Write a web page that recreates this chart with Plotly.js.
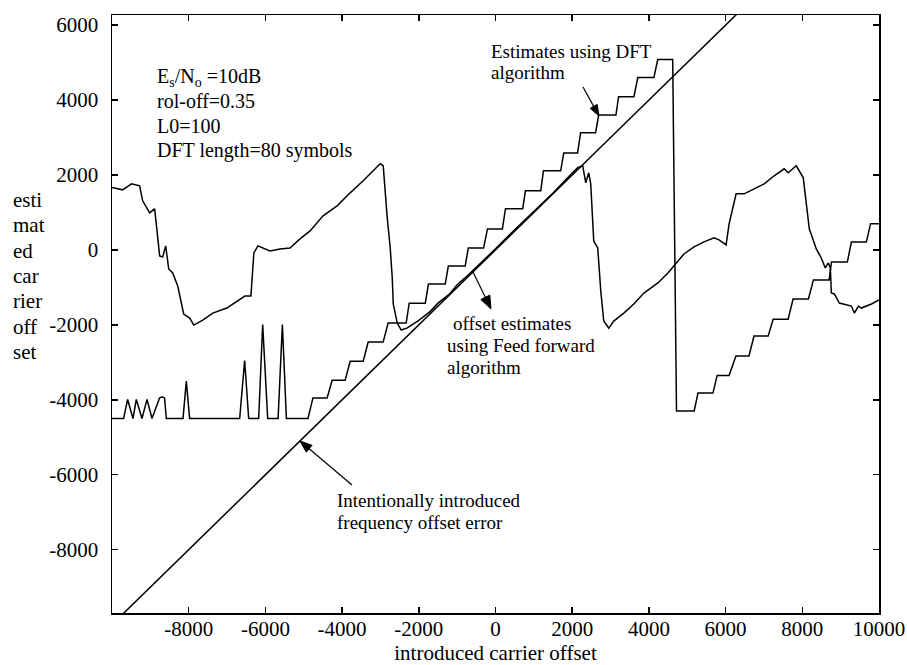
<!DOCTYPE html>
<html>
<head>
<meta charset="utf-8">
<script src="https://cdn.plot.ly/plotly-3.0.1.min.js"></script>
<style>html,body{margin:0;padding:0;background:#fff;}</style>
</head>
<body>
<div id="chart" style="width:907px;height:665px;"></div>
<script>
// ---- Data ----
// Intentionally introduced frequency offset (reference line)
const refX = [-10000, -5000, 0, 5000, 10000];
const refY = [-10000, -5000, 0, 5000, 10000];

// DFT algorithm estimates (staircase with spikes)
const dftX = [-10000, -9698, -9593, -9453, -9366, -9218, -9087, -8957, -8760, -8696, -8630, -8583,
  -8148, -8062, -7976, -6671, -6541, -6436, -6175, -6071, -5940, -5669, -5557, -5453,
  -4890, -4760, -4390, -4260, -3920, -3790, -3450, -3320, -2930, -2800, -2330, -2250, -1830,
  -1750, -1310, -1230, -790, -710, -310, -210, 180, 260, 710, 780, 1180, 1250, 1700,
  1780, 2140, 2220, 2610, 2690, 3140, 3210, 3610, 3710, 4130, 4230, 4620,
  4720, 5180, 5280, 5670, 5780, 6090, 6270, 6610, 6740, 7110, 7240, 7630, 7760, 8160,
  8290, 8700, 8760, 9175, 9280, 9670, 9780, 10000];
const dftY = [-4500, -4500, -3990, -4500, -3990, -4500, -3990, -4500, -3950, -3920, -3950, -4500,
  -4500, -3500, -4500, -4500, -2950, -4500, -4500, -1990, -4500, -4500, -1990, -4500,
  -4500, -3950, -3950, -3480, -3480, -2970, -2970, -2460, -2460, -1950, -1950, -1420, -1420,
  -910, -910, -430, -430, 50, 50, 560, 560, 1100, 1100, 1580, 1580, 2110, 2110,
  2590, 2590, 3130, 3130, 3600, 3600, 4090, 4090, 4600, 4600, 5080, 5080,
  -4300, -4300, -3820, -3820, -3350, -3350, -2830, -2830, -2300, -2300, -1850, -1850, -1310, -1310,
  -800, -800, -320, -320, 210, 210, 700, 700];

// Feed forward algorithm estimates
const ffX = [-10000, -9724, -9489, -9280, -9200, -9018, -8888, -8757, -8678, -8600, -8521, -8417,
  -8286, -8130, -7973, -7868, -7633, -7372, -7006, -6744, -6535, -6378, -6300, -6195,
  -5881, -5620, -5359, -5097, -4836, -4496, -4130, -3790, -3450, -3006, -2928, -2823,
  -2745, -2692, -2666, -2562, -2457, -2300, -2000, -1700, -1500, -1200, -1000, -700,
  -500, -200, 0, 500, 1000, 1500, 2000, 2143, 2274, 2353, 2431, 2483, 2562, 2666,
  2745, 2823, 2954, 3084, 3346, 3607, 3869, 4235, 4496, 4705, 4914, 5176, 5437, 5699,
  5830, 6013, 6091, 6274, 6483, 6744, 7006, 7267, 7528, 7633, 7842, 8025, 8182, 8365,
  8495, 8600, 8678, 8731, 8757, 8835, 8966, 9280, 9358, 9463, 9541, 9803, 10000];
const ffY = [1670, 1604, 1765, 1711, 1310, 990, 1096, -160, -187, 107, -508, -615,
  -963, -1711, -1818, -2005, -1872, -1685, -1551, -1364, -1230, -1230, -80, 107,
  -27, 27, 53, 294, 508, 909, 1176, 1524, 1845, 2300, 2246, 856,
  53, -749, -1444, -1952, -2139, -2080, -1880, -1640, -1420, -1180, -930, -660,
  -470, -170, 30, 540, 1040, 1520, 2050, 2193, 2246, 1791, 2059, 1765, 240, 53,
  -1096, -1898, -2086, -1898, -1685, -1444, -1150, -882, -615, -348, -107, 80, 214, 321,
  267, 134, 695, 1497, 1497, 1631, 1765, 1979, 2166, 2059, 2246, 1925, 562, 27,
  -214, -481, -348, -481, -1150, -1176, -1417, -1497, -1685, -1497, -1551, -1444, -1337];

// Tick labels
const xTickVals = [-8000, -6000, -4000, -2000, 0, 2000, 4000, 6000, 8000, 10000];
const xTickText = ['-8000', '-6000', '-4000', '-2000', '0', '2000', '4000', '6000', '8000', '10000'];
const yTickVals = [6000, 4000, 2000, 0, -2000, -4000, -6000, -8000];
const yTickText = ['6000', '4000', '2000', '0', '-2000', '-4000', '-6000', '-8000'];

// Texts
const yTitleLines = ['esti', 'mat', 'ed', 'car', 'rier', 'off', 'set'];
const paramLines = ['E<sub>s</sub>/N<sub>o</sub> =10dB', 'rol-off=0.35', 'L0=100', 'DFT length=80 symbols'];
const dftLabel = ['Estimates using DFT', 'algorithm'];
const ffLabel = ['offset estimates', 'using Feed forward', 'algorithm'];
const refLabel = ['Intentionally introduced', 'frequency offset error'];

// ---- Geometry ----
const W = 907, H = 665;
const ML = 112, MR = 28, MT = 15, MB = 52;
const PW = W - ML - MR, PH = H - MT - MB;
const XR = [-10000, 10000], YR = [-9690, 6270];
const X = px => XR[0] + (px - ML) / PW * (XR[1] - XR[0]);
const Y = py => YR[1] - (py - MT) / PH * (YR[1] - YR[0]);
const XP = px => (px - ML) / PW;
const YP = py => 1 - (py - MT) / PH;

const FONT = 'Liberation Serif, Times New Roman, serif';
const lineStyle = {color: '#000', width: 1.5};

const traces = [
  {x: refX, y: refY, type: 'scatter', mode: 'lines', line: lineStyle, hoverinfo: 'skip'},
  {x: dftX, y: dftY, type: 'scatter', mode: 'lines', line: lineStyle, hoverinfo: 'skip'},
  {x: ffX, y: ffY, type: 'scatter', mode: 'lines', line: lineStyle, hoverinfo: 'skip'}
];

const axisCommon = {
  ticks: 'inside', ticklen: 6, tickwidth: 1.5, tickcolor: '#000',
  showline: true, linecolor: '#000', linewidth: 1.5, mirror: 'ticks',
  showgrid: false, zeroline: false,
  tickfont: {family: FONT, size: 21, color: '#000'}
};

const annotations = [];
function addLines(lines, left, firstCenter, spacing, size) {
  lines.forEach((t, i) => {
    annotations.push({
      xref: 'paper', yref: 'paper', x: XP(left), y: YP(firstCenter + i * spacing),
      xanchor: 'left', yanchor: 'middle', align: 'left', showarrow: false, text: t,
      borderpad: 0, font: {family: FONT, size: size, color: '#000'}
    });
  });
}
addLines(yTitleLines, 12, 200, 25.3, 21);
addLines(paramLines.slice(0, 1), 156, 77, 0, 20);
addLines(paramLines.slice(1), 156, 101, 24.8, 20);
addLines(dftLabel, 490, 52, 20, 19);
addLines(ffLabel.slice(0, 1), 452, 323, 22, 19);
addLines(ffLabel.slice(1), 446, 345, 22, 19);
addLines(refLabel, 336, 500, 22, 19);

// arrows: tail (px) -> tip (px)
const shapes = [];
function arrow(tx, ty, hx, hy, hl, hw) {
  const dx = hx - tx, dy = hy - ty, len = Math.hypot(dx, dy);
  const ux = dx / len, uy = dy / len;
  const bx = hx - ux * hl, by = hy - uy * hl;
  const p1 = [bx - uy * hw, by + ux * hw], p2 = [bx + uy * hw, by - ux * hw];
  shapes.push({type: 'line', xref: 'x', yref: 'y', x0: X(tx), y0: Y(ty), x1: X(bx), y1: Y(by),
    line: {color: '#000', width: 1.2}});
  shapes.push({type: 'path', xref: 'x', yref: 'y',
    path: `M${X(hx)},${Y(hy)} L${X(p1[0])},${Y(p1[1])} L${X(p2[0])},${Y(p2[1])} Z`,
    fillcolor: '#000', line: {color: '#000', width: 1}});
}
arrow(583, 87, 599, 116, 11, 4);
arrow(473, 272, 491, 309, 13, 5);
arrow(352, 485, 300, 441, 12, 4.5);

const layout = {
  width: W, height: H,
  margin: {l: ML, r: MR, t: MT, b: MB},
  paper_bgcolor: '#fff', plot_bgcolor: '#fff',
  showlegend: false,
  font: {family: FONT, size: 21, color: '#000'},
  xaxis: Object.assign({}, axisCommon, {
    range: XR, tickmode: 'array', tickvals: xTickVals, ticktext: xTickText,
    ticklabelstandoff: -4,
    title: {text: 'introduced carrier offset', font: {family: FONT, size: 21, color: '#000'}, standoff: 5}
  }),
  yaxis: Object.assign({}, axisCommon, {
    range: YR, tickmode: 'array', tickvals: yTickVals, ticktext: yTickText,
    ticklabelstandoff: 8
  }),
  annotations: annotations,
  shapes: shapes
};

Plotly.newPlot('chart', traces, layout, {staticPlot: true, displayModeBar: false});
</script>
</body>
</html>
